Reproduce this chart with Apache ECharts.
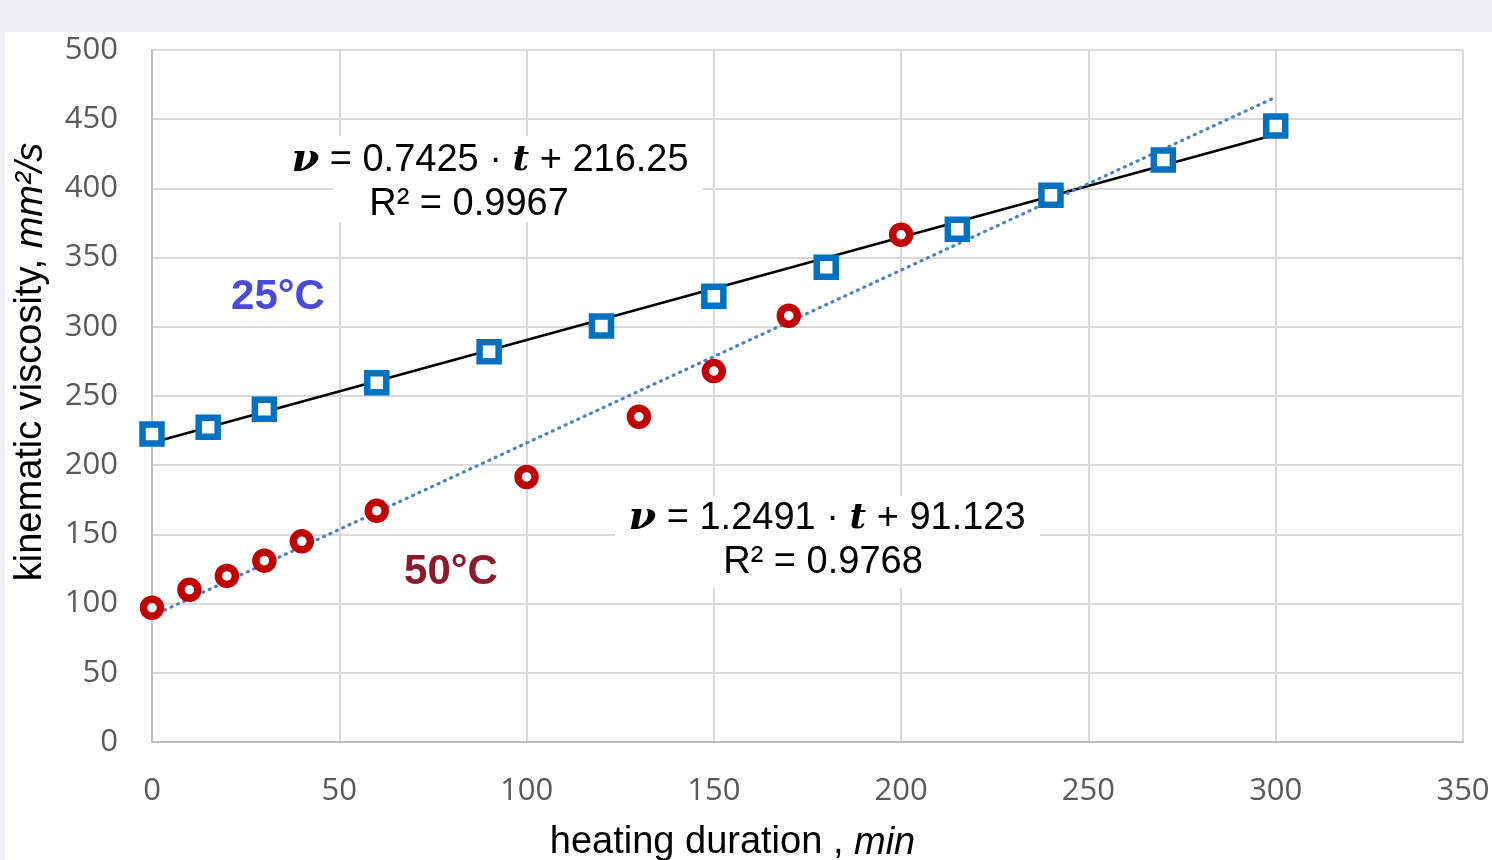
<!DOCTYPE html>
<html>
<head>
<meta charset="utf-8">
<script src="https://cdn.jsdelivr.net/npm/echarts@6/dist/echarts.min.js"></script>
<style>
  html, body { margin: 0; padding: 0; background: #eef0f5; }
  #chart { position: absolute; left: 5px; top: 32px; width: 1487px; height: 828px; background: #fff; }
</style>
</head>
<body>
<div id="chart"></div>
<script>
// heating duration, min
var time25 = [0, 15, 30, 60, 90, 120, 150, 180, 215, 240, 270, 300];
var visc25 = [222.5, 227.5, 240.5, 259.5, 282, 300.5, 322, 343, 370.5, 395, 420.5, 445];
var time50 = [0, 10, 20, 30, 40, 60, 100, 130, 150, 170, 200];
var visc50 = [97, 110, 120, 131, 145, 167, 191.5, 235, 268, 308, 366.5];
// trendline ends (t, v)
var trend25 = [[0, 216.25], [300, 439.0]];
var trend50 = [[0, 91.12], [300, 465.9]];
var xTicks = [0, 350, 50];
var yTicks = [0, 500, 50];

function pairs(xs, ys) {
  var out = [];
  for (var i = 0; i < xs.length; i++) out.push([xs[i], ys[i]]);
  return out;
}

// chart div sits at (5,32) in the page
var OX = 5, OY = 32;
var myChart = echarts.init(document.getElementById("chart"));
var lbl = { color: "#595959", fontSize: 31, fontFamily: "Open Sans" };
var richEq = {
  v: { fontFamily: "DejaVu Serif", fontStyle: "italic", fontWeight: "bold", fontSize: 40, fill: "#000" },
  t: { fontFamily: "DejaVu Serif", fontStyle: "italic", fontWeight: "bold", fontSize: 36, fill: "#000" }
};
function eqLine(txt, cx, cy) {
  return {
    type: "text", x: cx - OX, y: cy - OY, z: 5,
    style: {
      text: txt, fontFamily: "Liberation Sans", fontSize: 38, fill: "#000",
      align: "center", verticalAlign: "middle", rich: richEq
    }
  };
}
function whiteBox(x1, y1, x2, y2) {
  return {
    type: "rect", z: 4,
    shape: { x: x1 - OX, y: y1 - OY, width: x2 - x1, height: y2 - y1 },
    style: { fill: "#fff" }
  };
}

var option = {
  animation: false,
  grid: { left: 147, right: 29, top: 18, bottom: 118, outerBoundsMode: "none", containLabel: false },
  xAxis: {
    type: "value",
    min: xTicks[0], max: xTicks[1], interval: xTicks[2],
    name: "{n|heating duration , }{i|min}",
    nameLocation: "middle",
    nameGap: 82,
    nameTextStyle: {
      padding: [0, 150, 0, 0],
      rich: {
        n: { fontFamily: "Liberation Sans", fontSize: 38, color: "#000" },
        i: { fontFamily: "Liberation Sans", fontSize: 38, fontStyle: "italic", color: "#000" }
      }
    },
    axisLine: { lineStyle: { color: "#bfbfbf", width: 2 } },
    axisTick: { show: false },
    axisLabel: Object.assign({ margin: 34 }, lbl),
    splitLine: { lineStyle: { color: "#d9d9d9", width: 2 } }
  },
  yAxis: {
    type: "value",
    min: yTicks[0], max: yTicks[1], interval: yTicks[2],
    name: "{n|kinematic viscosity, }{i|mm²/s}",
    nameLocation: "middle",
    nameGap: 102,
    nameTextStyle: {
      padding: [0, 0, 0, 68],
      rich: {
        n: { fontFamily: "Liberation Sans", fontSize: 38, color: "#000" },
        i: { fontFamily: "Liberation Sans", fontSize: 38, fontStyle: "italic", color: "#000" }
      }
    },
    axisLine: { show: true, lineStyle: { color: "#bfbfbf", width: 2 } },
    axisTick: { show: false },
    axisLabel: Object.assign({ margin: 34 }, lbl),
    splitLine: { lineStyle: { color: "#d9d9d9", width: 2 } }
  },
  series: [
    {
      name: "trend 25°C",
      type: "line",
      data: trend25,
      symbol: "none",
      lineStyle: { color: "#000", width: 2.5 },
      z: 2
    },
    {
      name: "trend 50°C",
      type: "line",
      data: trend50,
      symbol: "none",
      lineStyle: { color: "#4f81bd", width: 3.2, type: [1, 6], cap: "round" },
      z: 2
    },
    {
      name: "25°C",
      type: "scatter",
      data: pairs(time25, visc25),
      symbol: "rect",
      symbolSize: 19,
      itemStyle: { color: "#fff", borderColor: "#0070c0", borderWidth: 6.5, opacity: 1 },
      z: 3
    },
    {
      name: "50°C",
      type: "scatter",
      data: pairs(time50, visc50),
      symbol: "circle",
      symbolSize: 17,
      itemStyle: { color: "#fff", borderColor: "#c00000", borderWidth: 7.5, opacity: 1 },
      z: 3
    }
  ],
  graphic: [
    whiteBox(333, 136, 703, 222),
    eqLine("{v|ν} = 0.7425 · {t|t} + 216.25", 490, 161),
    eqLine("R² = 0.9967", 469, 205),
    whiteBox(615, 496, 1040, 588),
    eqLine("{v|ν} = 1.2491 · {t|t} + 91.123", 827, 519),
    eqLine("R² = 0.9768", 823, 563),
    {
      type: "text", x: 278 - OX, y: 297 - OY, z: 6,
      style: { text: "25°C", fontFamily: "Liberation Sans", fontWeight: "bold", fontSize: 42,
               fill: "#4a4ad6", align: "center", verticalAlign: "middle" }
    },
    {
      type: "text", x: 451 - OX, y: 572 - OY, z: 6,
      style: { text: "50°C", fontFamily: "Liberation Sans", fontWeight: "bold", fontSize: 42,
               fill: "#8b1a2a", align: "center", verticalAlign: "middle" }
    }
  ]
};
myChart.setOption(option);
</script>
</body>
</html>
